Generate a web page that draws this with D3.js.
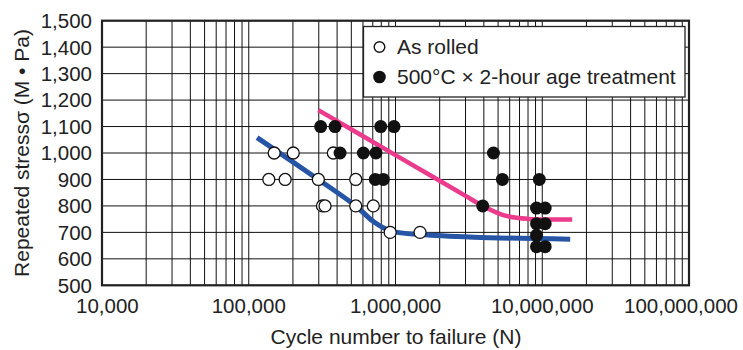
<!DOCTYPE html>
<html>
<head>
<meta charset="utf-8">
<script src="https://cdn.jsdelivr.net/npm/d3@7"></script>
<style>
  html, body { margin: 0; padding: 0; background: #fff; }
  svg { display: block; font-family: "Liberation Sans", Arial, Helvetica, sans-serif; }
</style>
</head>
<body>
<svg id="chart" width="743" height="350"></svg>
<script>
// ---- data ----
const xTickValues = [1e4, 1e5, 1e6, 1e7, 1e8];
const xTickLabels = ["10,000", "100,000", "1,000,000", "10,000,000", "100,000,000"];
const yTickValues = [500, 600, 700, 800, 900, 1000, 1100, 1200, 1300, 1400, 1500];

const seriesNames = ["As rolled", "500°C × 2-hour age treatment"];

// As rolled (open circles): [cycles, stress MPa]
const asRolled = [
  [149000, 1000], [201000, 1000], [377000, 1000],
  [137000, 900], [177000, 900], [298000, 900], [536000, 900],
  [318000, 800], [331000, 800], [536000, 800], [706000, 800],
  [920000, 700], [1470000, 700]
];
// Aged 500°C x 2h (filled circles)
const aged = [
  [309000, 1100], [387000, 1100], [793000, 1100], [977000, 1100],
  [419000, 1000], [604000, 1000], [736000, 1000], [4650000, 1000],
  [728000, 900], [826000, 900], [5350000, 900], [9550000, 900],
  [3930000, 800], [9140000, 792], [10470000, 792],
  [9140000, 733], [10470000, 733],
  [9140000, 689],
  [9140000, 646], [10470000, 646]
];
// fitted curves
const asRolledCurve = [
  [114000, 1058], [298000, 900], [536000, 800], [710000, 740], [920000, 706],
  [1500000, 692], [3400000, 682], [15500000, 674]
];
const agedCurve = [
  [298000, 1162], [1000000, 992], [2000000, 895], [3000000, 838], [3930000, 800],
  [5500000, 764], [8000000, 751], [16000000, 749]
];

// ---- layout ----
const W = 743, H = 350;
const plot = { left: 102, right: 689, top: 20.7, bottom: 285.3 };
const TICK_FONT = 20.5, TITLE_FONT = 21;

const svg = d3.select("#chart");
const x = d3.scaleLog().domain([1e4, 1e8]).range([plot.left, plot.right]);
const y = d3.scaleLinear().domain([500, 1500]).range([plot.bottom, plot.top]);

// grid
const grid = svg.append("g");
const minorX = [];
for (let d = 4; d < 8; d++) for (let k = 1; k <= 9; k++) minorX.push(k * Math.pow(10, d));
minorX.push(1e8);
grid.selectAll("line.v").data(minorX).enter().append("line")
  .attr("x1", d => x(d)).attr("x2", d => x(d))
  .attr("y1", plot.top).attr("y2", plot.bottom)
  .attr("stroke", "#111").attr("stroke-width", 1);
grid.selectAll("line.h").data(yTickValues).enter().append("line")
  .attr("x1", plot.left).attr("x2", plot.right)
  .attr("y1", d => y(d)).attr("y2", d => y(d))
  .attr("stroke", "#111").attr("stroke-width", 1);

// frame
svg.append("rect")
  .attr("x", plot.left).attr("y", plot.top)
  .attr("width", plot.right - plot.left).attr("height", plot.bottom - plot.top)
  .attr("fill", "none").attr("stroke", "#222").attr("stroke-width", 2.2);

// y tick labels
svg.append("g").selectAll("text").data(yTickValues).enter().append("text")
  .attr("x", 92).attr("y", d => y(d)).attr("dy", "0.36em")
  .attr("text-anchor", "end").attr("font-size", TICK_FONT).attr("fill", "#222")
  .text(d => d3.format(",")(d));

// x tick labels (kept inside the picture)
const xl = svg.append("g").selectAll("text").data(xTickValues).enter().append("text")
  .attr("x", d => x(d)).attr("y", 313)
  .attr("text-anchor", "middle").attr("font-size", TICK_FONT).attr("fill", "#222")
  .text((d, i) => xTickLabels[i]);
xl.each(function(d) {
  const w = this.getComputedTextLength();
  let cx = x(d);
  if (cx - w / 2 < 76) cx = 76 + w / 2;
  if (cx + w / 2 > 738) cx = 738 - w / 2;
  d3.select(this).attr("x", cx);
});

// axis titles
svg.append("text")
  .attr("x", (plot.left + plot.right) / 2 + 0.5).attr("y", 344)
  .attr("text-anchor", "middle").attr("font-size", TITLE_FONT).attr("fill", "#222")
  .text("Cycle number to failure (N)");
svg.append("text")
  .attr("transform", `translate(29,${(plot.top + plot.bottom) / 2}) rotate(-90)`)
  .attr("text-anchor", "middle").attr("font-size", TITLE_FONT).attr("fill", "#222")
  .text("Repeated stressσ (M • Pa)");

// curves
const line = d3.line().x(d => x(d[0])).y(d => y(d[1])).curve(d3.curveCatmullRom.alpha(0.5));
svg.append("path").datum(asRolledCurve).attr("d", line)
  .attr("fill", "none").attr("stroke", "#2655a6").attr("stroke-width", 5);
svg.append("path").datum(agedCurve).attr("d", line)
  .attr("fill", "none").attr("stroke", "#ec3a8c").attr("stroke-width", 4.5);

// points
svg.append("g").selectAll("circle").data(asRolled).enter().append("circle")
  .attr("cx", d => x(d[0])).attr("cy", d => y(d[1])).attr("r", 6)
  .attr("fill", "#fff").attr("stroke", "#111").attr("stroke-width", 1.3);
svg.append("g").selectAll("circle").data(aged).enter().append("circle")
  .attr("cx", d => x(d[0])).attr("cy", d => y(d[1])).attr("r", 6.5)
  .attr("fill", "#111");

// legend
const lg = svg.append("g");
lg.append("rect").attr("x", 363.5).attr("y", 26.5).attr("width", 321.5).attr("height", 70.5)
  .attr("fill", "#fff").attr("stroke", "#222").attr("stroke-width", 1.3);
const legendRows = seriesNames.map((name, i) => ({ name, filled: i === 1, cy: 47 + i * 30 }));
lg.selectAll("circle").data(legendRows).enter().append("circle")
  .attr("cx", 379.5).attr("cy", d => d.cy).attr("r", d => d.filled ? 6.3 : 5.3)
  .attr("fill", d => d.filled ? "#111" : "#fff")
  .attr("stroke", "#111").attr("stroke-width", d => d.filled ? 0 : 1.4);
lg.selectAll("text").data(legendRows).enter().append("text")
  .attr("x", 397).attr("y", d => d.cy).attr("dy", "0.35em")
  .attr("font-size", TITLE_FONT).attr("fill", "#222")
  .text(d => d.name);
</script>
</body>
</html>
